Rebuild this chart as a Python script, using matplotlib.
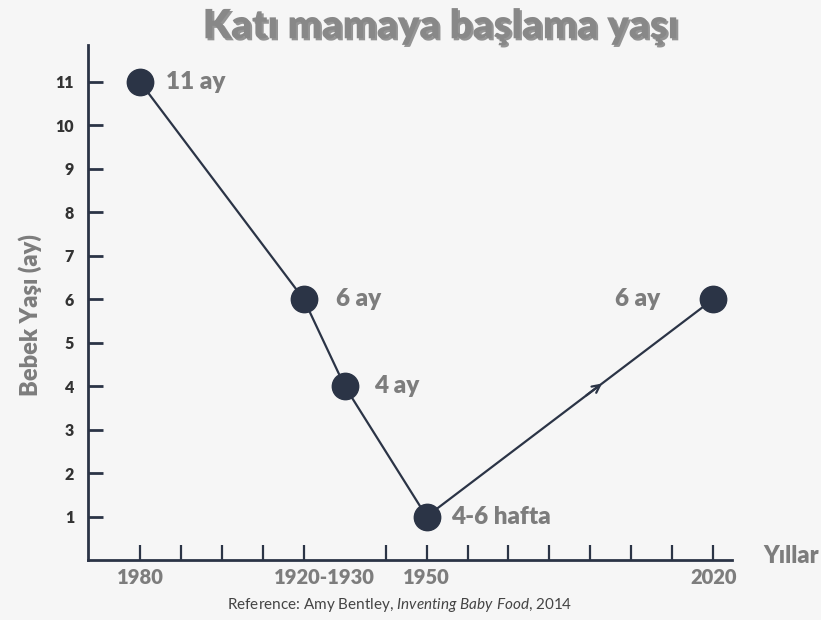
import matplotlib.pyplot as plt
import matplotlib.patheffects as pe

# veri
x_idx = [0, 4, 5, 7, 14]
yas = [11, 6, 4, 1, 6]
etiketler = ['11 ay', '6 ay', '4 ay', '4-6 hafta', '6 ay']
# etiket kaydirmalari (piksel)
etiket_dx = [26, 32, 29, 24, -53]
tick_yerleri = [0, 1, 2, 3, 4, 6, 7, 8, 9, 10, 11, 12, 13, 14]
yil_yerleri = [0, 4.5, 7, 14]
yil_etiketleri = ['1980', '1920-1930', '1950', '2020']
y_ticks = list(range(1, 12))

plt.rcParams['font.family'] = ['Lato', 'DejaVu Sans']
plt.rcParams['mathtext.fontset'] = 'custom'
plt.rcParams['mathtext.it'] = 'Lato:italic'
plt.rcParams['mathtext.rm'] = 'Lato'

koyu = '#2b3446'
gri = '#7d7d7d'
bg = '#f6f6f6'

fig = plt.figure(figsize=(8.21, 6.2), dpi=100, facecolor=bg)
ax = fig.add_axes([88 / 821, 60 / 620, 644 / 821, 515 / 620])
ax.set_facecolor(bg)

ax.plot(x_idx, yas, color=koyu, lw=1.6, marker='o', ms=19, zorder=3)

# son parcadaki ok
x0, y0, x1, y1 = x_idx[3], yas[3], x_idx[4], yas[4]
ax.annotate('', xy=(x0 + 0.62 * (x1 - x0), y0 + 0.62 * (y1 - y0)),
            xytext=(x0 + 0.55 * (x1 - x0), y0 + 0.55 * (y1 - y0)),
            arrowprops=dict(arrowstyle='->', color=koyu, lw=1.6,
                            mutation_scale=14))

for xi, yi, t, dx in zip(x_idx, yas, etiketler, etiket_dx):
    ax.annotate(t, (xi, yi), xytext=(dx * 0.72, 0), textcoords='offset points',
                ha='left' if dx > 0 else 'right', va='center',
                fontsize=17.5, fontweight='heavy', color=gri)

ax.set_xlim(-1.27, 14.46)
ax.set_ylim(0, 11.85)

for s in ['top', 'right']:
    ax.spines[s].set_visible(False)
for s in ['left', 'bottom']:
    ax.spines[s].set_color(koyu)
    ax.spines[s].set_linewidth(2)

ax.set_yticks(y_ticks)
ax.set_yticklabels([str(v) for v in y_ticks], fontsize=11.5, fontweight='heavy', color='#333333')
ax.tick_params(axis='y', direction='in', length=11, width=2, color=koyu, pad=10)

ax.set_xticks(tick_yerleri)
ax.set_xticklabels([])
ax.tick_params(axis='x', direction='in', length=11, width=1.6, color=koyu)

# yil etiketleri
for xp, t in zip(yil_yerleri, yil_etiketleri):
    ax.annotate(t, (xp, 0), xycoords=('data', 'axes fraction'), xytext=(0, -17 * 0.72),
                textcoords='offset points', ha='center', va='center',
                fontsize=14.5, fontweight='heavy', color=gri, annotation_clip=False)

ax.set_ylabel('Bebek Yaşı (ay)', fontsize=17, fontweight='heavy', color=gri)
ax.yaxis.set_label_coords(-0.0714, 0.476)

fig.text(763 / 821, 1 - 556 / 620, 'Yıllar', fontsize=17, fontweight='heavy',
         color=gri, ha='left', va='center')

fig.text(440 / 821, 1 - 27 / 620, 'Katı mamaya başlama yaşı', fontsize=29,
         fontweight='heavy', color='#888888', ha='center', va='center',
         path_effects=[pe.withSimplePatchShadow(offset=(1.5, -1.5), shadow_rgbFace='#333333', alpha=0.5)])

fig.text(400 / 821, 1 - 605 / 620,
         r'Reference: Amy Bentley, $\mathit{Inventing\ Baby\ Food}$, 2014',
         fontsize=11, color='#444444', ha='center', va='center')

fig.savefig('out.png', dpi=100, facecolor=bg)
